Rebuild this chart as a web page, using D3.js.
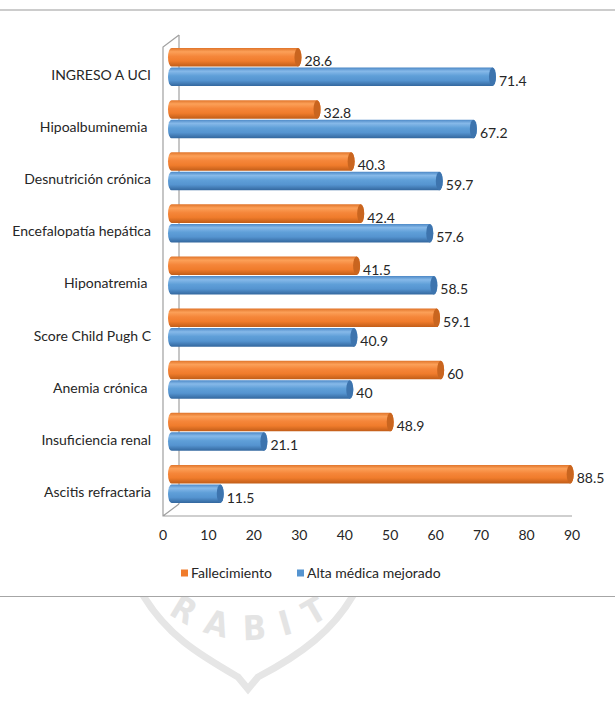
<!DOCTYPE html>
<meta charset="utf-8">
<style>
body { margin: 0; background: #fff; }
text { font-family: Lato, "Open Sans", sans-serif; fill: #262626; }
.cat { font-size: 14px; text-anchor: end; white-space: pre; }
.val { font-size: 14px; }
.tick { font-size: 14px; text-anchor: middle; }
.leg { font-size: 14px; }
.wall { fill: none; stroke: #a0a0a0; stroke-width: 1.2px; }
.mark { fill: #e4e4e4; font-family: "DejaVu Sans Condensed", sans-serif; font-weight: bold; font-size: 34px; text-anchor: middle; }
</style>
<svg width="615" height="710"></svg>
<script src="https://cdn.jsdelivr.net/npm/d3@7"></script>
<script>

// data, top to bottom as shown
var categories = ["INGRESO A UCI", "Hipoalbuminemia ", "Desnutrición crónica", "Encefalopatía hepática",
  "Hiponatremia ", "Score Child Pugh C", "Anemia crónica ", "Insuficiencia renal", "Ascitis refractaria"];
var fallecimiento = [28.6, 32.8, 40.3, 42.4, 41.5, 59.1, 60, 48.9, 88.5];
var altaMejorado = [71.4, 67.2, 59.7, 57.6, 58.5, 40.9, 40, 21.1, 11.5];
var seriesNames = ["Fallecimiento", "Alta médica mejorado"];
var xTicks = [0, 10, 20, 30, 40, 50, 60, 70, 80, 90];

var svg = d3.select("svg");

var rows = categories.map(function(c, i) {
  return { cat: c, values: [fallecimiento[i], altaMejorado[i]] };
});

// front plane (axis labels) and bar plane (a bit deeper in the 3d box)
var xFront = d3.scaleLinear().domain([0, 90]).range([163, 572]);
var xBar = d3.scaleLinear().domain([0, 90]).range([168, 577]);
var depth = { dx: 16, dy: -12 };

var y = d3.scaleBand().domain(categories).range([41, 510]).paddingInner(0.27).paddingOuter(0.135);
var ySeries = d3.scaleBand().domain([0, 1]).range([0, y.bandwidth()]).paddingInner(0.05);

var colors = [
  { stops: ["#e0742a", "#fca058", "#f5863a", "#f07c2c", "#c15d18"], cap: "#c9651f" },
  { stops: ["#4c88c6", "#86b9e9", "#5f9fd8", "#5594d0", "#33679e"], cap: "#3d74ae" }
];

// watermark, behind everything
var defs = svg.append("defs");
defs.append("clipPath").attr("id", "wmclip")
  .append("rect").attr("x", 0).attr("y", 597).attr("width", 615).attr("height", 113);
var wm = svg.append("g").attr("clip-path", "url(#wmclip)");
wm.append("path")
  .attr("d", "M140,590 C165,635 200,655 238,677 L248,689 L258,677 C300,655 335,630 356,590")
  .attr("fill", "none").attr("stroke", "#e6e6e6").attr("stroke-width", 7);
var wmLetters = ["R", "A", "B", "I", "T"];
var wmAngles = [121, 105, 88, 74, 60];
wmLetters.forEach(function(l, i) {
  var a = wmAngles[i] * Math.PI / 180, r = 128;
  var px = 250 + r * Math.cos(a), py = 500 + r * Math.sin(a);
  wm.append("text").attr("class", "mark")
    .attr("transform", "translate(" + px + "," + py + ") rotate(" + (wmAngles[i] - 90) + ")")
    .attr("dy", "0.35em").text(l);
});

// horizontal rules
svg.append("line").attr("x1", 0).attr("x2", 615).attr("y1", 10).attr("y2", 10)
  .attr("stroke", "#cccccc").attr("stroke-width", 2);
svg.append("line").attr("x1", 0).attr("x2", 615).attr("y1", 596.5).attr("y2", 596.5)
  .attr("stroke", "#a6a6a6").attr("stroke-width", 1);

// 3d box edges
var boxTop = 47, boxBottom = 516;
svg.append("path").attr("class", "wall")
  .attr("d", "M" + (xFront(0) + depth.dx) + "," + (boxTop + depth.dy) + "V" + (boxBottom + depth.dy));

colors.forEach(function(c, i) {
  var g = defs.append("linearGradient").attr("id", "grad" + i)
    .attr("x1", 0).attr("y1", 0).attr("x2", 0).attr("y2", 1);
  var offs = [0, 0.2, 0.45, 0.7, 1];
  c.stops.forEach(function(s, j) {
    g.append("stop").attr("offset", offs[j]).attr("stop-color", s);
  });
});

var rx = 3.5;
var groups = svg.selectAll("g.row").data(rows).enter().append("g")
  .attr("class", "row")
  .attr("transform", function(d) { return "translate(0," + y(d.cat) + ")"; });

var bars = groups.selectAll("g.bar")
  .data(function(d) { return d.values.map(function(v, k) { return { v: v, k: k }; }); })
  .enter().append("g").attr("class", "bar");

bars.append("path")
  .attr("fill", function(d) { return "url(#grad" + d.k + ")"; })
  .attr("d", function(d) {
    var x0 = xBar(0), x1 = xBar(d.v), y0 = ySeries(d.k), h = ySeries.bandwidth();
    return "M" + (x0 + rx) + "," + y0 + "L" + x1 + "," + y0 +
      "A" + rx + "," + (h / 2) + " 0 0 1 " + x1 + "," + (y0 + h) +
      "L" + (x0 + rx) + "," + (y0 + h) +
      "A" + rx + "," + (h / 2) + " 0 0 1 " + (x0 + rx) + "," + y0 + "Z";
  });

bars.append("ellipse")
  .attr("cx", function(d) { return xBar(d.v); })
  .attr("cy", function(d) { return ySeries(d.k) + ySeries.bandwidth() / 2; })
  .attr("rx", rx)
  .attr("ry", ySeries.bandwidth() / 2)
  .attr("fill", function(d) { return colors[d.k].cap; });

bars.append("text").attr("class", "val")
  .attr("x", function(d) { return xBar(d.v) + rx + 3; })
  .attr("y", function(d) { return ySeries(d.k) + ySeries.bandwidth() / 2 + 4; })
  .attr("dy", "0.35em")
  .text(function(d) { return d.v; });

// front edges of the box
svg.append("path").attr("class", "wall")
  .attr("d", "M" + (xFront(0) + depth.dx) + "," + (boxTop + depth.dy) + "L" + xFront(0) + "," + boxTop +
    "V" + boxBottom + "H" + xFront(90) +
    "M" + xFront(0) + "," + boxBottom + "L" + (xFront(0) + depth.dx) + "," + (boxBottom + depth.dy));

// category labels
svg.selectAll("text.cat").data(categories).enter().append("text")
  .attr("class", "cat")
  .attr("x", 151)
  .attr("y", function(d) { return y(d) + y.bandwidth() / 2 + 8; })
  .attr("dy", "0.35em")
  .text(function(d) { return d; });

// x tick labels
svg.selectAll("text.tick").data(xTicks).enter().append("text")
  .attr("class", "tick")
  .attr("x", function(d) { return xFront(d); })
  .attr("y", 535)
  .attr("dy", "0.35em")
  .text(function(d) { return d; });

// legend
var legX = [181, 297];
var leg = svg.selectAll("g.leg").data(seriesNames).enter().append("g")
  .attr("class", "leg")
  .attr("transform", function(d, i) { return "translate(" + legX[i] + ",573)"; });
leg.append("rect").attr("x", 0).attr("y", -3.5).attr("width", 7).attr("height", 7)
  .attr("fill", function(d, i) { return colors[i].stops[3]; });
leg.append("text").attr("class", "leg").attr("x", 10).attr("dy", "0.35em")
  .text(function(d) { return d; });

</script>
